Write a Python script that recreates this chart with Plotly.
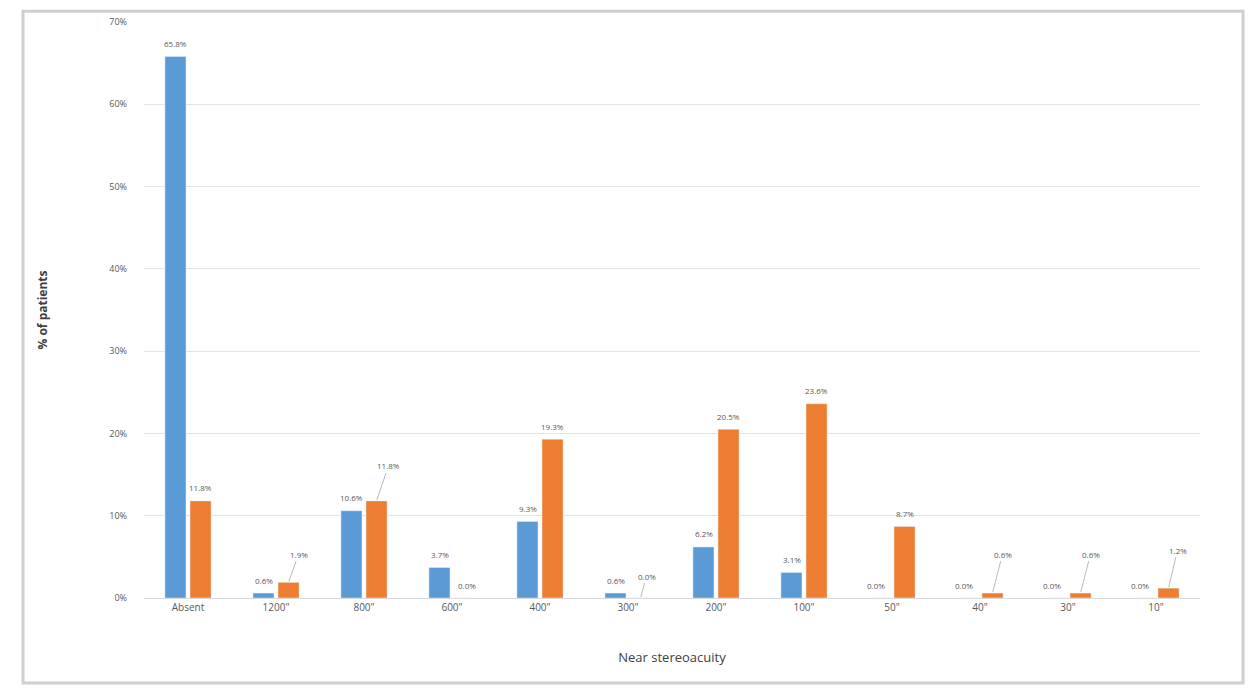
import plotly.graph_objects as go

categories = ["Absent", "1200\"", "800\"", "600\"", "400\"", "300\"", "200\"", "100\"", "50\"", "40\"", "30\"", "10\""]
series_blue = [65.8, 0.6, 10.6, 3.7, 9.3, 0.6, 6.2, 3.1, 0.0, 0.0, 0.0, 0.0]
series_orange = [11.8, 1.9, 11.8, 0.0, 19.3, 0.0, 20.5, 23.6, 8.7, 0.6, 0.6, 1.2]
y_ticks = [0, 10, 20, 30, 40, 50, 60, 70]
y_tick_labels = ["0%", "10%", "20%", "30%", "40%", "50%", "60%", "70%"]

# label offsets (pixels) for displaced labels with leader lines: (ax, ay)
orange_leader = {1: (10, -28), 2: (12, -35), 5: (6, -22), 9: (10, -39), 10: (10, -39), 11: (9, -38)}

BLUE = "#5B9BD5"
ORANGE = "#ED7D31"
LABEL = "#595959"

# page offset (body margin) compensation
PX, PY = 8, 8
W, H = 1237, 677
L, R, T, B = 144 - PX, 45, 7, 87
plot_w = W - L - R
plot_h = H - T - B

fig = go.Figure()
fig.add_trace(go.Bar(x=categories, y=series_blue, marker_color=BLUE, name="Blue"))
fig.add_trace(go.Bar(x=categories, y=series_orange, marker_color=ORANGE, name="Orange"))

annotations = []
off = 12.5
for i, (c, v) in enumerate(zip(categories, series_blue)):
    annotations.append(dict(x=c, y=v, xref="x", yref="y", text=f"{v:.1f}%", showarrow=False,
                            xshift=-off - (4 if v == 0 else 0), yshift=13,
                            font=dict(size=8, color=LABEL)))
for i, (c, v) in enumerate(zip(categories, series_orange)):
    if i in orange_leader:
        ax, ay = orange_leader[i]
        annotations.append(dict(x=c, y=v, xref="x", yref="y", text=f"{v:.1f}%", showarrow=True,
                                arrowhead=0, arrowwidth=0.8, arrowcolor="#A6A6A6",
                                ax=ax, ay=ay, xshift=off, standoff=1,
                                font=dict(size=8, color=LABEL)))
    else:
        annotations.append(dict(x=c, y=v, xref="x", yref="y", text=f"{v:.1f}%", showarrow=False,
                                xshift=off + (2 if v == 0 else 0), yshift=13,
                                font=dict(size=8, color=LABEL)))

# frame in page pixels: left 23, right 1243, top 4, bottom 684
def fx(px):
    return (px - PX - L) / plot_w

def fy(py):
    return 1 - (py - PY - T) / plot_h

fig.update_layout(
    width=W, height=H,
    margin=dict(l=L, r=R, t=T, b=B),
    paper_bgcolor="white", plot_bgcolor="white",
    showlegend=False,
    barmode="group", bargap=0.43, bargroupgap=0.16,
    font=dict(family="Open Sans, Liberation Sans, sans-serif", color=LABEL, size=10),
    annotations=annotations,
    xaxis=dict(
        tickfont=dict(size=10, color=LABEL),
        showline=True, linecolor="#D9D9D9", linewidth=1,
        showgrid=False, ticks="",
        title=dict(text="Near stereoacuity", font=dict(size=13, color="#404040"), standoff=39),
    ),
    yaxis=dict(
        range=[0, 70], tickvals=y_ticks, ticktext=y_tick_labels,
        tickfont=dict(size=9, color=LABEL),
        showgrid=True, gridcolor="#E4E4E4", gridwidth=1,
        zeroline=False, showline=False, ticks="", ticklen=0,
        ticklabelstandoff=16,
        title=dict(text="<b>% of patients</b>", font=dict(size=12, color="#404040"), standoff=59),
    ),
    shapes=[
        dict(type="rect", xref="paper", yref="paper",
             x0=fx(23), x1=fx(1243), y0=fy(684), y1=fy(4),
             line=dict(color="#D0D0D0", width=3), fillcolor="rgba(0,0,0,0)", layer="below"),
    ],
)

fig.write_html("out.html")
